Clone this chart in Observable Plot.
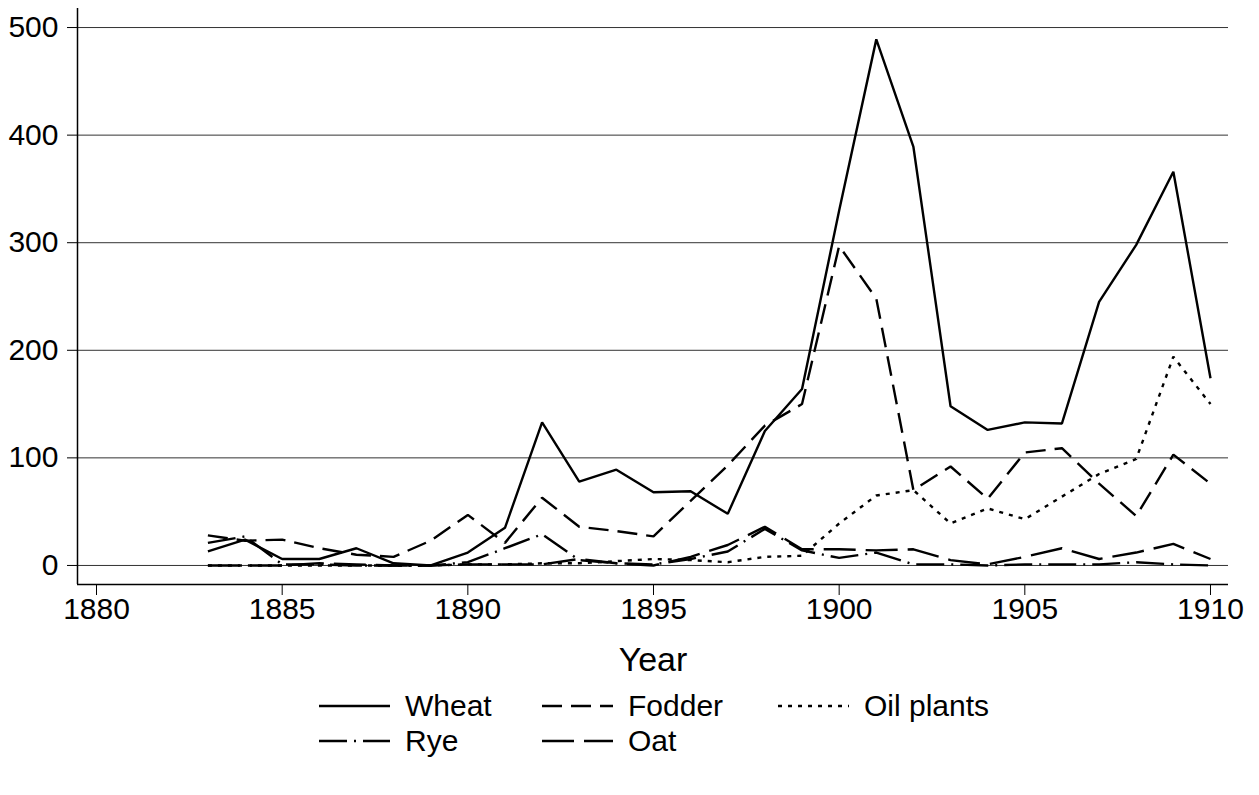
<!DOCTYPE html>
<html>
<head>
<meta charset="utf-8">
<script src="https://cdn.jsdelivr.net/npm/d3@7"></script>
<script src="https://cdn.jsdelivr.net/npm/@observablehq/plot@0.6"></script>
<style>
  html, body { margin: 0; padding: 0; background: #fff; }
  body { font-family: "Liberation Sans", Arial, Helvetica, sans-serif; width: 1259px; height: 795px; position: relative; overflow: hidden; }
  #chart { position: absolute; left: 0; top: 0; }
  .leg { position: absolute; display: flex; align-items: center; font-size: 30px; color: #000; white-space: nowrap; }
  .leg svg { margin-right: 15px; }
</style>
</head>
<body>
<div id="chart"></div>
<div id="legend"></div>
<script>
// ---- data ----
const years = [1883,1884,1885,1886,1887,1888,1889,1890,1891,1892,1893,1894,1895,1896,1897,1898,1899,1900,1901,1902,1903,1904,1905,1906,1907,1908,1909,1910];
const wheat = [13,24,6,6,16,2,0,12,35,133,78,89,68,69,48,125,164,330,489,389,148,126,133,132,245,298,366,174];
const fodder = [28,23,24,16,10,8,23,47,21,63,36,32,27,60,93,130,150,297,248,70,92,62,105,109,76,46,103,76];
const oilPlants = [0,0,0,0,0,0,0,1,1,2,2,4,6,5,3,8,9,39,65,70,39,53,43,64,85,99,194,150];
const rye = [21,27,1,1,0,0,0,3,16,29,5,2,1,6,13,34,14,7,12,1,1,0,1,1,1,3,1,0];
const oat = [0,0,0,2,1,0,0,1,1,1,6,2,0,8,19,36,15,15,14,15,5,1,8,16,6,12,20,6];

const seriesNames = ["Wheat", "Fodder", "Oil plants", "Rye", "Oat"];
const seriesValues = [wheat, fodder, oilPlants, rye, oat];
const dashes = ["none", "20,9", "4,6", "28,7,2,7", "32,10"];

const yTicks = [0, 100, 200, 300, 400, 500];
const xTicks = [1880, 1885, 1890, 1895, 1900, 1905, 1910];
const xDomain = [1879.488, 1910.485];
const yDomain = [-17.7, 517.7];

const series = seriesNames.map((name, i) => years.map((year, j) => ({name, year, value: seriesValues[i][j]})));

const lineMarks = series.map((d, i) => Plot.line(d, {
  x: "year", y: "value", stroke: "black", strokeWidth: 2.4,
  strokeDasharray: dashes[i] === "none" ? undefined : dashes[i],
  strokeLinejoin: "miter", strokeLinecap: "butt"
}));

const chart = Plot.plot({
  width: 1259,
  height: 690,
  marginLeft: 77,
  marginRight: 31,
  marginTop: 8,
  marginBottom: 106,
  style: { fontFamily: "'Liberation Sans', Arial, sans-serif", background: "white", color: "black" },
  x: { domain: xDomain },
  y: { domain: yDomain },
  marks: [
    Plot.gridY(yTicks, { stroke: "#333", strokeOpacity: 1, strokeWidth: 1 }),
    Plot.ruleX([xDomain[0]], { stroke: "black", strokeWidth: 1.5 }),
    Plot.ruleY([yDomain[0]], { stroke: "black", strokeWidth: 1.5 }),
    Plot.axisY(yTicks, { tickSize: 10, tickPadding: 9, fontSize: 30, label: null, stroke: "black" }),
    Plot.axisX(xTicks, { tickSize: 11, tickPadding: 2, fontSize: 30, label: null, tickFormat: d => String(d), stroke: "black" }),
    Plot.text(["Year"], { frameAnchor: "bottom", dy: 76, fontSize: 34, fill: "black", lineAnchor: "middle" }),
    ...lineMarks
  ]
});
document.getElementById("chart").appendChild(chart);

// ---- legend ----
const legendPos = [
  {left: 319, top: 706}, {left: 542, top: 706}, {left: 778, top: 706},
  {left: 319, top: 741}, {left: 542, top: 741}
];
const legend = document.getElementById("legend");
seriesNames.forEach((name, i) => {
  const div = document.createElement("div");
  div.className = "leg";
  div.style.left = legendPos[i].left + "px";
  div.style.top = (legendPos[i].top - 17) + "px";
  div.style.height = "34px";
  const dash = dashes[i] === "none" ? "" : ` stroke-dasharray="${dashes[i]}"`;
  div.innerHTML = `<svg width="71" height="10"><line x1="0" y1="5" x2="71" y2="5" stroke="black" stroke-width="2.4"${dash}/></svg><span>${name}</span>`;
  legend.appendChild(div);
});
</script>
</body>
</html>
